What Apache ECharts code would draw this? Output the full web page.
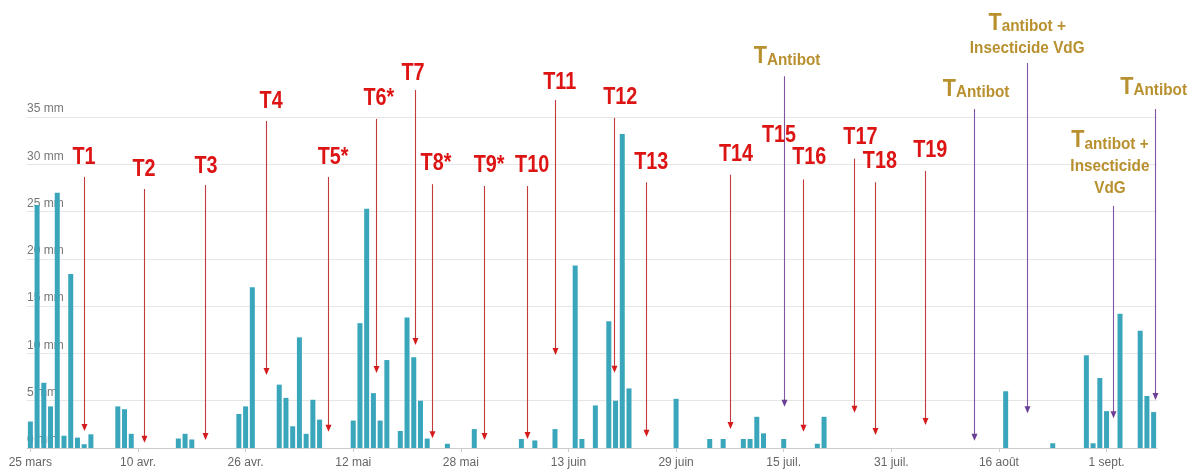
<!DOCTYPE html>
<html>
<head>
<meta charset="utf-8">
<script src="https://cdn.jsdelivr.net/npm/echarts@6/dist/echarts.min.js"></script>
<style>
html,body{margin:0;padding:0;background:#fff;}
#c{width:1190px;height:471px;}
</style>
</head>
<body>
<div id="c"></div>
<script>
// Daily rainfall (mm), day 0 = 25 mars ... day 167 = 8 sept.
const rainfall = [
  2.8,25.7,6.9,4.4,27.0,1.3,18.4,1.1,0.4,1.45,0,0,0,4.4,4.1,1.5,
  0,0,0,0,0,0,1.0,1.5,0.9,0,0,0,0,0,0,3.6,
  4.4,17.0,0,0,0,6.7,5.3,2.3,11.7,1.5,5.1,3.0,0,0,0,0,
  2.9,13.2,25.3,5.8,2.9,9.3,0,1.8,13.8,9.6,5.0,1.0,0,0,0.45,0,
  0,0,2.0,0,0,0,0,0,0,0.95,0,0.8,0,0,2.0,0,
  0,19.3,0.95,0,4.5,0,13.4,5.0,33.2,6.3,0,0,0,0,0,0,
  5.2,0,0,0,0,0.95,0,0.95,0,0,0.95,0.95,3.3,1.55,0,0,
  0.95,0,0,0,0,0.45,3.3,0,0,0,0,0,0,0,0,0,
  0,0,0,0,0,0,0,0,0,0,0,0,0,0,0,0,
  0,6.0,0,0,0,0,0,0,0.5,0,0,0,0,9.8,0.5,7.4,
  3.9,0,14.2,0,0,12.4,5.5,3.8
];
const tickDays = [0,16,32,48,64,80,96,112,128,144,160];
const tickLabels = ['25 mars','10 avr.','26 avr.','12 mai','28 mai','13 juin','29 juin','15 juil.','31 juil.','16 août','1 sept.'];

// Treatment annotations (red): label, arrow day, arrow top (mm), arrow tip (mm), label day, label mm
const redNames   = ['T1','T2','T3','T4','T5*','T6*','T7','T8*','T9*','T10','T11','T12','T13','T14','T15','T16','T17','T18','T19'];
const redArrowX  = [8.02,16.9,25.96,35.0,44.3,51.4,57.2,59.7,67.5,73.8,78.0,86.8,91.5,104.0,null,114.8,122.5,125.6,133.0];
const redArrowTop= [28.66,27.39,27.8,34.58,28.66,34.8,37.86,27.9,27.7,27.7,36.8,34.9,28.1,28.9,null,28.4,30.6,28.1,29.3];
const redArrowTip= [1.8,0.56,0.85,7.72,1.72,7.93,10.9,1.03,0.85,0.95,9.83,7.96,1.19,2.0,null,1.72,3.73,1.37,2.43];
const redLabelX  = [7.98,16.9,26.1,35.8,45.0,51.8,56.9,60.3,68.2,74.6,78.7,87.7,92.3,104.9,111.3,115.8,123.4,126.3,133.8];
const redLabelY  = [30.66,29.4,29.8,36.6,30.66,36.9,39.6,30.1,29.9,29.9,38.6,37.0,30.2,31.0,33.0,30.7,32.8,30.3,31.4];

// Antibot annotations (gold text, purple arrows)
const goldTexts = [
  '{b|T}{s|Antibot}',
  '{b|T}{s|antibot +}\n{s|Insecticide VdG}',
  '{b|T}{s|Antibot}',
  '{b|T}{s|Antibot}',
  '{b|T}{s|antibot +}\n{s|Insecticide}\n{s|VdG}'
];
const goldArrowX   = [112.1,148.2,140.3,167.2,161.0];
const goldArrowTop = [39.3,40.7,35.85,35.85,25.6];
const goldArrowTip = [4.37,3.67,0.77,5.08,3.14];
const goldLabelX   = [112.5,148.2,140.6,167.0,160.5];
const goldLabelY   = [41.3,43.67,37.86,38.07,30.1];

const chart = echarts.init(document.getElementById('c'));
chart.setOption({
  animation: false,
  backgroundColor: '#ffffff',
  grid: {left: 27, right: 33, top: 117, bottom: 23, containLabel: false, outerBoundsMode: 'none'},
  xAxis: {
    type: 'value', min: -0.5, max: 167.5,
    splitLine: {show: false},
    axisLine: {show: true, lineStyle: {color: '#cccccc'}},
    axisTick: {show: true, customValues: tickDays, length: 4, lineStyle: {color: '#cccccc'}},
    axisLabel: {
      customValues: tickDays, color: '#666', fontSize: 12, margin: 9,
      fontFamily: 'Liberation Sans, Arial, sans-serif',
      formatter: v => tickLabels[tickDays.indexOf(Math.round(v))] || ''
    }
  },
  yAxis: {
    type: 'value', min: 0, max: 35, interval: 5,
    axisLine: {show: false}, axisTick: {show: false},
    splitLine: {lineStyle: {color: '#e6e6e6'}},
    axisLabel: {
      inside: true, verticalAlign: 'bottom', margin: 0, padding: [0,0,2,0],
      color: '#777', fontSize: 12, fontFamily: 'Liberation Sans, Arial, sans-serif',
      formatter: '{value} mm'
    }
  },
  series: [{
    type: 'bar',
    data: rainfall.map((v, i) => [i, v]),
    barWidth: 5,
    itemStyle: {color: '#3aa6bb'}
  }]
});

const px = (d, mm) => chart.convertToPixel({gridIndex: 0}, [d, mm]);
const elements = [];
function arrow(d, top, tip, color, headColor) {
  const a = px(d, top), b = px(d, tip);
  const x = Math.round(a[0]) + 0.5;
  elements.push({type: 'line', z: 10, shape: {x1: x, y1: a[1], x2: x, y2: b[1] - 5}, style: {stroke: color, lineWidth: 1.1}});
  elements.push({type: 'polygon', z: 10, shape: {points: [[x - 3, b[1] - 7], [x + 3, b[1] - 7], [x, b[1]]]}, style: {fill: headColor}});
}
const redFont = "'Liberation Sans', Arial, sans-serif";
redNames.forEach((n, i) => {
  if (redArrowX[i] != null) arrow(redArrowX[i], redArrowTop[i], redArrowTip[i], '#c43a3a', '#d41c1c');
  const p = px(redLabelX[i], redLabelY[i]);
  elements.push({type: 'text', z: 12, x: p[0], y: p[1], scaleX: 0.86, style: {
    text: n, fill: '#dd1414', font: 'bold 23px ' + redFont, align: 'center', verticalAlign: 'middle'
  }});
});
goldTexts.forEach((t, i) => {
  arrow(goldArrowX[i], goldArrowTop[i], goldArrowTip[i], '#7d55a0', '#6b3f96');
  const p = px(goldLabelX[i], goldLabelY[i]);
  elements.push({type: 'text', z: 12, x: p[0], y: p[1], scaleX: 0.9, style: {
    text: t, align: 'center', verticalAlign: 'middle', fill: '#b8902e',
    rich: {
      b: {fontSize: 24, fontWeight: 'bold', fontFamily: redFont, fill: '#b8902e', lineHeight: 22, verticalAlign: 'bottom'},
      s: {fontSize: 17, fontWeight: 'bold', fontFamily: redFont, fill: '#b8902e', lineHeight: 22, verticalAlign: 'bottom'}
    }
  }});
});
chart.setOption({graphic: elements});
</script>
</body>
</html>
